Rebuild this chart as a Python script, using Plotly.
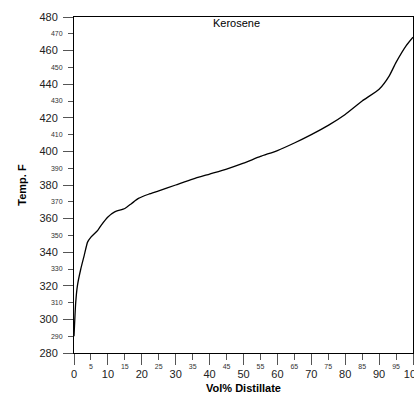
import plotly.graph_objects as go

vol = [0, 0.5, 1, 2, 3, 4, 5, 7, 8, 10, 12, 15, 17, 19, 22, 25, 30, 35, 40, 45, 50,
       55, 60, 65, 70, 75, 80, 85, 90, 93, 95, 98, 100]
temp = [290, 310, 320, 330, 338, 346, 349, 353, 356, 361, 364, 366, 369, 372, 374.5,
        376.5, 380, 383.5, 386.5, 389.5, 393, 397, 400.5, 405, 410, 415.5, 422, 430,
        437, 445, 453, 463, 468]

x_major = list(range(0, 101, 10))
x_minor = list(range(5, 100, 10))
y_major = list(range(280, 481, 20))
y_minor = list(range(290, 471, 20))

FONT = "Liberation Sans, Arial, sans-serif"

fig = go.Figure()
fig.add_trace(go.Scatter(x=vol, y=temp, mode="lines", line=dict(color="black", width=1.3, shape="spline", smoothing=0.5),
                         showlegend=False, hoverinfo="skip"))
fig.add_trace(go.Scatter(x=[None], y=[None], xaxis="x2", yaxis="y2", showlegend=False, hoverinfo="skip"))

fig.update_layout(
    width=414, height=394,
    margin=dict(l=74, r=1, t=17, b=41, autoexpand=False),
    paper_bgcolor="white", plot_bgcolor="white",
    font=dict(family=FONT, color="black"),
    xaxis=dict(range=[0, 100], tickvals=x_major, ticks="outside", ticklen=11, tickcolor="#555",
               tickfont=dict(size=11, color="#222"), showline=True, linecolor="black", linewidth=1,
               mirror=True, showgrid=False, zeroline=False, ticklabeloverflow="allow", automargin=False,
               title=dict(text="<b>Vol% Distillate</b>", font=dict(size=11), standoff=6)),
    yaxis=dict(range=[280, 480], tickvals=y_major, ticks="outside", ticklen=10, tickcolor="#555",
               tickfont=dict(size=11, color="#222"), showline=True, linecolor="black", linewidth=1,
               mirror=True, showgrid=False, zeroline=False, ticklabelstandoff=3, automargin=False,
               title=dict(text="<b>Temp. F</b>", font=dict(size=11), standoff=10)),
    xaxis2=dict(range=[0, 100], overlaying="x", side="bottom", anchor="y", tickvals=x_minor,
                ticks="outside", ticklen=6, tickcolor="#555", tickfont=dict(size=7, color="#333"),
                showline=False, showgrid=False, zeroline=False, ticklabelstandoff=1, automargin=False),
    yaxis2=dict(range=[280, 480], overlaying="y", side="left", anchor="x", tickvals=y_minor,
                ticks="outside", ticklen=5, tickcolor="#555", tickfont=dict(size=7, color="#333"),
                showline=False, showgrid=False, zeroline=False, ticklabelstandoff=4, automargin=False),
    annotations=[dict(text="Kerosene", x=0.478, y=0.982, xref="paper", yref="paper",
                      showarrow=False, font=dict(size=11, color="black"), xanchor="center", yanchor="middle")],
)

fig.write_html("out.html")
